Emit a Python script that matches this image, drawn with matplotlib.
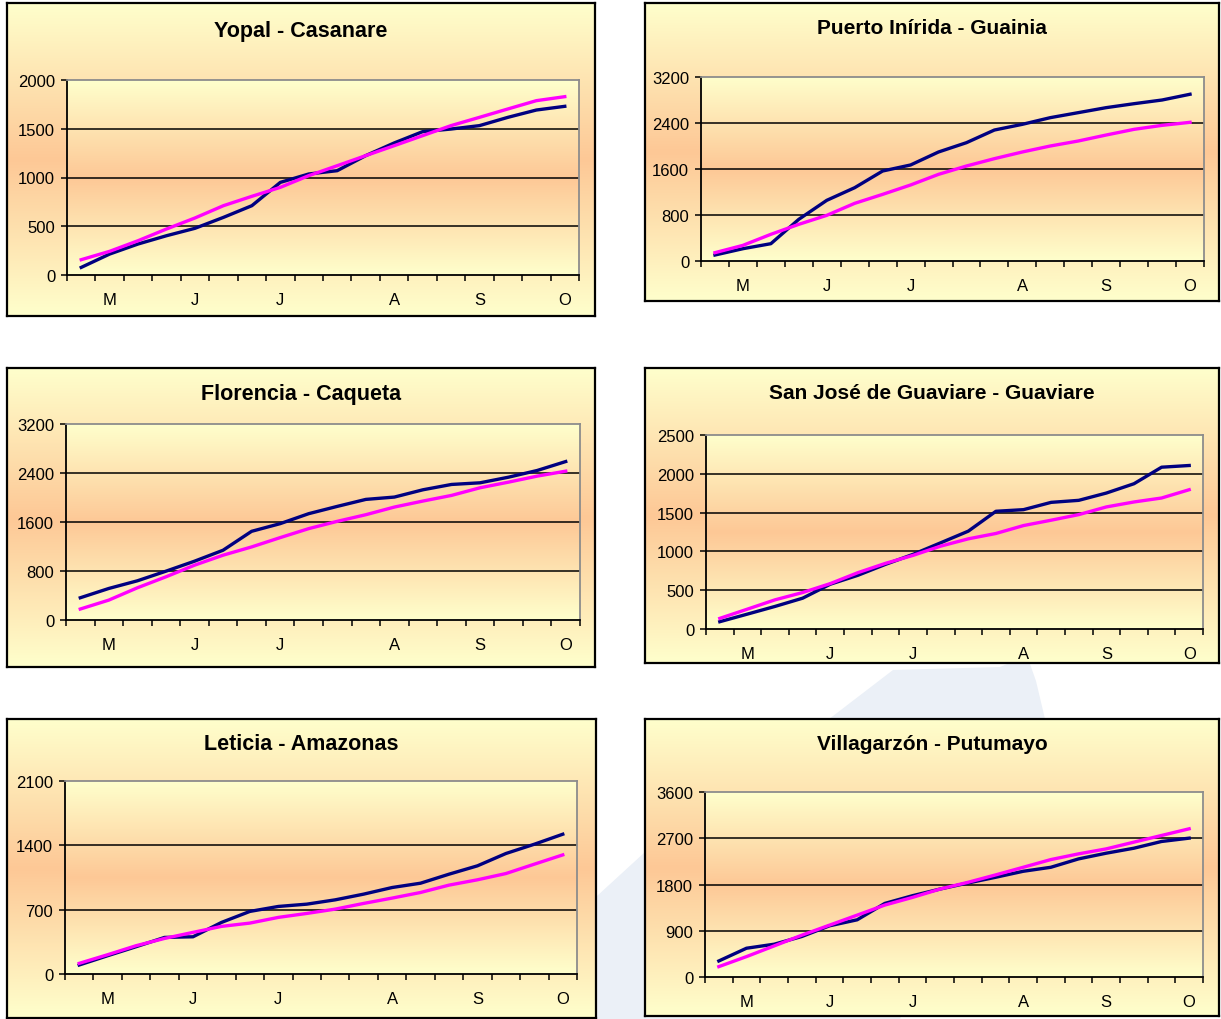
import numpy as np
import matplotlib
matplotlib.use("Agg")
import matplotlib.pyplot as plt
from matplotlib.colors import LinearSegmentedColormap
from matplotlib.patches import Polygon

plt.rcParams["font.family"] = ["Liberation Sans", "DejaVu Sans"]

# ---------------------------------------------------------------- data
# 18 ten-day periods, May to October
month_labels = ["", "M", "", "", "J", "", "", "J", "", "", "", "A", "", "", "S", "", "", "O"]

yopal_s1 = [78, 215, 318, 403, 479, 591, 711, 950, 1036, 1070, 1224, 1354, 1470, 1497, 1532, 1617, 1692, 1730]
yopal_s2 = [157, 243, 352, 472, 585, 711, 807, 899, 1019, 1121, 1224, 1326, 1429, 1532, 1617, 1703, 1788, 1829]
yopal_ticks = [0, 500, 1000, 1500, 2000]

inirida_s1 = [104, 214, 301, 725, 1055, 1275, 1565, 1670, 1896, 2058, 2278, 2377, 2493, 2580, 2667, 2736, 2800, 2900]
inirida_s2 = [145, 272, 464, 638, 794, 1003, 1159, 1322, 1507, 1652, 1780, 1896, 2000, 2087, 2191, 2290, 2359, 2412]
inirida_ticks = [0, 800, 1600, 2400, 3200]

florencia_s1 = [363, 515, 640, 797, 960, 1139, 1448, 1573, 1736, 1855, 1969, 2007, 2126, 2213, 2240, 2332, 2441, 2587]
florencia_s2 = [179, 325, 526, 705, 895, 1058, 1193, 1345, 1492, 1611, 1719, 1844, 1942, 2034, 2159, 2251, 2349, 2430]
florencia_ticks = [0, 800, 1600, 2400, 3200]

guaviare_s1 = [94, 192, 291, 397, 577, 692, 833, 962, 1111, 1261, 1517, 1538, 1632, 1658, 1752, 1872, 2085, 2107]
guaviare_s2 = [137, 256, 376, 470, 585, 726, 846, 949, 1068, 1162, 1231, 1333, 1402, 1474, 1573, 1637, 1688, 1795]
guaviare_ticks = [0, 500, 1000, 1500, 2000, 2500]

leticia_s1 = [98, 199, 297, 398, 405, 561, 681, 735, 760, 807, 869, 941, 988, 1086, 1177, 1311, 1412, 1521]
leticia_s2 = [116, 210, 308, 387, 453, 518, 554, 616, 659, 706, 768, 826, 887, 967, 1025, 1093, 1195, 1296]
leticia_ticks = [0, 700, 1400, 2100]

villagarzon_s1 = [312, 560, 638, 788, 996, 1113, 1432, 1582, 1712, 1829, 1940, 2057, 2135, 2298, 2409, 2506, 2637, 2702]
villagarzon_s2 = [202, 397, 605, 814, 1009, 1204, 1400, 1549, 1712, 1842, 1986, 2135, 2285, 2396, 2493, 2624, 2754, 2884]
villagarzon_ticks = [0, 900, 1800, 2700, 3600]

titles = ["Yopal - Casanare", "Puerto Inírida - Guainia", "Florencia - Caqueta",
          "San José de Guaviare - Guaviare", "Leticia - Amazonas", "Villagarzón - Putumayo"]

# ---------------------------------------------------------------- layout (pixels)
W, H = 1221, 1020
panels = [
    # box, plot area, title y, title size
    ((7, 4, 595, 317), (67, 81, 579, 276), 31, 15.5),
    ((645, 4, 1219, 302), (701, 78, 1204, 262), 29, 15),
    ((7, 369, 595, 668), (66, 425, 580, 621), 395, 15.5),
    ((645, 369, 1219, 664), (706, 436, 1203, 630), 394, 15),
    ((7, 720, 596, 1019), (65, 782, 577, 975), 745, 15.5),
    ((645, 720, 1219, 1017), (705, 793, 1203, 978), 745, 15),
]
series = [
    (yopal_s1, yopal_s2, yopal_ticks),
    (inirida_s1, inirida_s2, inirida_ticks),
    (florencia_s1, florencia_s2, florencia_ticks),
    (guaviare_s1, guaviare_s2, guaviare_ticks),
    (leticia_s1, leticia_s2, leticia_ticks),
    (villagarzon_s1, villagarzon_s2, villagarzon_ticks),
]

NAVY = "#000080"
MAGENTA = "#FF00FF"
fire = LinearSegmentedColormap.from_list("fire", ["#FFFFCC", "#FDC896", "#FFFFCC"])
grad = np.linspace(0, 1, 256).reshape(-1, 1)


def frac(box):
    x0, y0, x1, y1 = box
    return [x0 / W, 1 - y1 / H, (x1 - x0) / W, (y1 - y0) / H]


fig = plt.figure(figsize=(W / 100, H / 100), dpi=100)

# faint backdrop shape behind the panels
back = fig.add_axes([0, 0, 1, 1], zorder=-5)
back.set_xlim(0, W)
back.set_ylim(H, 0)
back.axis("off")
back.add_patch(Polygon([(590, 1020), (597, 897), (645, 853), (833, 717), (893, 671),
                        (1000, 668), (1012, 663), (1030, 665), (1036, 682), (1045, 720),
                        (900, 1020)], closed=True, facecolor="#EBF0F7", edgecolor="none"))

x = np.arange(18)

for (box, plot, ty, tsize), (s1, s2, yt), title in zip(panels, series, titles):
    # chart frame with its gradient fill
    bax = fig.add_axes(frac(box), zorder=0)
    bax.imshow(grad, cmap=fire, aspect="auto", extent=(0, 1, 0, 1))
    bax.set_xticks([])
    bax.set_yticks([])
    for sp in bax.spines.values():
        sp.set_linewidth(1.6)
        sp.set_color("black")

    fig.text((box[0] + box[2]) / 2 / W, 1 - ty / H, title, ha="center", va="center",
             fontsize=tsize, fontweight="bold", color="black")

    ax = fig.add_axes(frac(plot), zorder=1)
    ymax = yt[-1]
    ax.set_xlim(-0.5, 17.5)
    ax.set_ylim(0, ymax)
    ax.imshow(grad, cmap=fire, aspect="auto", extent=(-0.5, 17.5, 0, ymax), zorder=0)

    for v in yt[1:-1]:
        ax.axhline(v, color="black", lw=1.1, zorder=1)

    ax.plot(x, s1, color=NAVY, lw=2.4, zorder=3, solid_joinstyle="round")
    ax.plot(x, s2, color=MAGENTA, lw=2.4, zorder=4, solid_joinstyle="round")

    ax.set_yticks(yt)
    ax.set_yticklabels([str(v) for v in yt])
    ax.tick_params(axis="y", direction="out", length=4.5, width=1.1, pad=4,
                   labelsize=12, colors="black")

    ax.set_xticks(np.arange(-0.5, 18, 1), minor=True)
    ax.set_xticks(x)
    ax.set_xticklabels(month_labels)
    ax.tick_params(axis="x", which="minor", direction="out", length=4.5, width=1.1)
    ax.tick_params(axis="x", which="major", length=0, pad=12, labelsize=12)

    ax.spines["left"].set_color("black")
    ax.spines["bottom"].set_color("black")
    ax.spines["left"].set_linewidth(1.3)
    ax.spines["bottom"].set_linewidth(1.3)
    ax.spines["top"].set_color("#8C8C8C")
    ax.spines["right"].set_color("#8C8C8C")
    ax.spines["top"].set_linewidth(1.3)
    ax.spines["right"].set_linewidth(1.3)

fig.savefig("out.png", dpi=100, facecolor="white")
